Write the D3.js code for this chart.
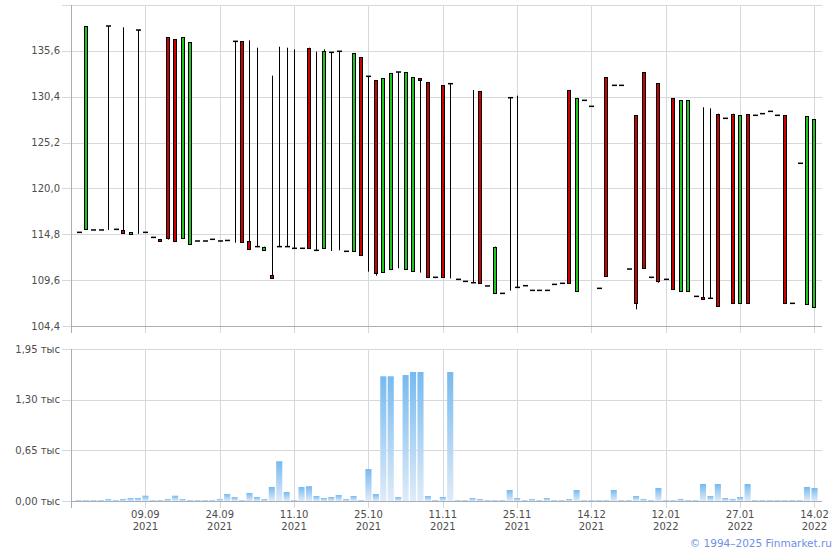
<!DOCTYPE html>
<html>
<head>
<meta charset="utf-8">
<script src="https://cdn.jsdelivr.net/npm/d3@7"></script>
<style>
body { margin: 0; background: #fff; }
svg { display: block; font-family: "DejaVu Sans", Verdana, sans-serif; }
</style>
</head>
<body>
<svg id="chart" width="840" height="550"></svg>
<script>
// daily OHLC, one entry per trading day (100 days)
var openPrices = [115.02,115.36,115.29,115.29,138.42,115.36,115.29,114.76,137.96,115.02,
    114.45,114.27,137.13,136.91,114.30,113.66,114.04,114.04,114.23,114.04,
    114.10,136.68,136.68,114.00,113.40,113.09,110.15,113.40,113.40,113.21,
    113.21,135.96,112.98,113.21,135.43,135.55,112.87,112.87,134.86,132.71,
    132.26,110.49,110.83,133.20,110.83,110.56,132.52,132.03,109.92,131.69,
    131.88,109.69,109.46,109.31,131.01,108.94,108.22,108.10,130.29,108.78,
    108.97,108.44,108.44,108.44,109.12,109.24,131.12,108.33,129.99,129.31,
    108.67,132.60,131.69,131.69,110.86,128.29,133.16,109.92,131.92,109.69,
    130.22,108.33,108.33,107.76,107.65,107.54,128.48,127.95,128.48,106.93,
    128.40,128.29,128.48,128.74,128.29,128.29,106.97,122.85,106.86,106.52];
var highPrices = [115.02,138.42,115.29,115.29,138.42,115.36,138.27,115.02,137.96,115.02,
    114.45,114.27,137.13,136.91,137.13,136.57,114.04,114.04,114.23,114.04,
    114.10,136.68,136.68,136.79,135.96,113.40,132.79,136.07,135.96,135.77,
    113.21,135.96,135.51,135.77,135.43,135.55,112.87,135.32,134.86,132.71,
    132.26,132.48,133.05,133.20,133.20,132.60,132.52,132.03,109.92,131.69,
    131.88,109.69,109.46,131.16,131.01,108.94,113.40,108.10,130.29,130.52,
    108.97,108.44,108.44,108.44,109.12,109.24,131.12,130.22,129.99,129.31,
    108.67,132.60,131.69,131.69,110.86,128.29,133.16,109.92,131.92,109.69,
    130.22,129.99,129.99,107.76,129.20,129.08,128.48,127.95,128.48,128.29,
    128.40,128.29,128.48,128.74,128.29,128.29,106.97,122.85,128.17,127.83];
var lowPrices = [115.02,115.36,115.29,115.29,115.29,115.36,115.00,114.76,114.85,115.02,
    114.45,114.00,114.20,114.00,114.30,113.66,114.04,114.04,114.23,114.04,
    114.10,113.85,113.89,113.09,113.40,113.09,109.80,113.40,113.40,113.21,
    113.21,113.28,112.98,113.21,112.90,112.98,112.87,112.87,112.41,110.56,
    110.11,110.49,110.83,110.94,110.83,110.56,110.45,109.92,109.92,109.92,
    109.80,109.69,109.46,109.31,109.20,108.94,108.22,108.10,108.41,108.78,
    108.97,108.44,108.44,108.44,109.12,109.24,109.24,108.33,129.99,129.31,
    108.67,110.03,131.69,131.69,110.86,106.29,110.98,109.92,109.31,109.69,
    108.56,108.33,108.33,107.76,107.42,107.54,106.74,127.95,107.05,106.93,
    106.93,128.29,128.48,128.74,128.29,106.93,106.97,122.85,106.86,106.52];
var closePrices = [115.02,138.42,115.29,115.29,138.42,115.36,115.00,115.02,137.96,115.02,
    114.45,114.00,114.30,114.00,137.13,136.57,114.04,114.04,114.23,114.04,
    114.10,136.68,113.89,113.09,113.40,113.40,109.80,113.40,113.40,113.21,
    113.21,113.28,112.98,135.55,135.43,135.55,112.87,135.32,112.41,132.71,
    110.37,132.48,133.05,133.20,133.20,132.60,132.26,109.92,109.92,109.92,
    131.88,109.69,109.46,109.31,109.20,108.94,113.40,108.10,130.29,108.78,
    108.97,108.44,108.44,108.44,109.12,109.24,109.24,130.22,129.99,129.31,
    108.67,110.03,131.69,131.69,110.86,106.97,110.98,109.92,109.50,109.69,
    108.56,129.99,129.99,107.76,107.42,107.54,106.74,127.95,107.05,128.29,
    106.93,128.29,128.48,128.74,128.29,106.93,106.97,122.85,128.17,127.83];
// volume, thousands
var volumes = [0.01,0.01,0.01,0.01,0.026,0.01,0.026,0.038,0.038,0.068,
    0.01,0.01,0.026,0.068,0.026,0.01,0.01,0.01,0.01,0.026,
    0.09,0.051,0.01,0.103,0.051,0.026,0.18,0.51,0.115,0.01,
    0.18,0.19,0.064,0.038,0.051,0.077,0.026,0.064,0.013,0.41,
    0.09,1.60,1.60,0.051,1.616,1.655,1.655,0.064,0.013,0.051,
    1.655,0.01,0.01,0.038,0.026,0.01,0.01,0.01,0.141,0.038,
    0.01,0.026,0.01,0.038,0.01,0.01,0.026,0.141,0.01,0.01,
    0.01,0.01,0.141,0.01,0.01,0.064,0.026,0.01,0.167,0.01,
    0.01,0.026,0.01,0.01,0.218,0.064,0.218,0.038,0.026,0.051,
    0.218,0.01,0.01,0.01,0.01,0.01,0.01,0.01,0.18,0.167];

var tickIndex = [9, 19, 29, 39, 49, 59, 69, 79, 89, 99];
var tickDay = ["09.09", "24.09", "11.10", "25.10", "11.11", "25.11", "14.12", "12.01", "27.01", "14.02"];
var tickYear = ["2021", "2021", "2021", "2021", "2021", "2021", "2021", "2022", "2022", "2022"];
var priceTicks = [104.4, 109.6, 114.8, 120.0, 125.2, 130.4, 135.6, 140.8];
var volumeTicks = [0, 0.65, 1.30, 1.95];

var left = 71, right = 822;
var priceTop = 5, priceBottom = 326;
var volTop = 349, volBottom = 501;

var gridColor = "#d5d9dd";
var axisColor = "#a9aeb6";
var textColor = "#4d4d4d";
var upColor = "#1cc81c";
var downColor = "#cc0000";

var svg = d3.select("#chart");

var xScale = d3.scaleBand()
    .domain(d3.range(openPrices.length))
    .range([left, right])
    .paddingInner(0.18)
    .paddingOuter(0.6);
var cx = function (i) { return xScale(i) + xScale.bandwidth() / 2; };

var yScale = d3.scaleLinear()
    .domain([104.4, 140.8])
    .range([priceBottom, priceTop]);
var vScale = d3.scaleLinear()
    .domain([0, 1.95])
    .range([volBottom, volTop]);

var commaFmt = function (f) {
    var fmt = d3.format(f);
    return function (v) { return fmt(v).replace(".", ","); };
};
var priceFmt = commaFmt(".1f");
var volFmt = commaFmt(".2f");

var defs = svg.append("defs");
var grad = defs.append("linearGradient")
    .attr("id", "volGrad")
    .attr("x1", 0).attr("y1", 0).attr("x2", 0).attr("y2", 1);
grad.append("stop").attr("offset", "0%").attr("stop-color", "#76baf0");
grad.append("stop").attr("offset", "100%").attr("stop-color", "#dfebf8");

// grid
var grid = svg.append("g").attr("shape-rendering", "crispEdges");
grid.selectAll("line.hp")
    .data(priceTicks)
    .enter().append("line")
    .attr("x1", left - 9).attr("x2", right)
    .attr("y1", function (d) { return Math.round(yScale(d)) + 0.5; })
    .attr("y2", function (d) { return Math.round(yScale(d)) + 0.5; })
    .style("stroke", gridColor);
grid.selectAll("line.hv")
    .data(volumeTicks)
    .enter().append("line")
    .attr("x1", left - 9).attr("x2", right)
    .attr("y1", function (d) { return Math.round(vScale(d)) + 0.5; })
    .attr("y2", function (d) { return Math.round(vScale(d)) + 0.5; })
    .style("stroke", gridColor);
tickIndex.forEach(function (i) {
    var x = Math.round(cx(i)) + 0.5;
    grid.append("line")
        .attr("x1", x).attr("x2", x)
        .attr("y1", priceTop).attr("y2", priceBottom + 7)
        .style("stroke", gridColor);
    grid.append("line")
        .attr("x1", x).attr("x2", x)
        .attr("y1", volTop).attr("y2", volBottom + 7)
        .style("stroke", gridColor);
});

// axes
var axes = svg.append("g").attr("shape-rendering", "crispEdges").style("stroke", axisColor);
axes.append("line").attr("x1", left + 0.5).attr("x2", left + 0.5).attr("y1", priceTop).attr("y2", priceBottom + 7);
axes.append("line").attr("x1", left).attr("x2", right).attr("y1", priceBottom + 0.5).attr("y2", priceBottom + 0.5);
axes.append("line").attr("x1", left + 0.5).attr("x2", left + 0.5).attr("y1", volTop).attr("y2", volBottom + 7);
axes.append("line").attr("x1", left).attr("x2", right).attr("y1", volBottom + 0.5).attr("y2", volBottom + 0.5);

var labels = svg.append("g")
    .style("font-size", "10px")
    .style("fill", textColor);
labels.selectAll("text.py")
    .data(priceTicks.slice(0, -1))
    .enter().append("text")
    .attr("x", left - 11)
    .attr("y", function (d) { return yScale(d); })
    .attr("dy", "0.35em")
    .attr("text-anchor", "end")
    .text(priceFmt);
labels.selectAll("text.vy")
    .data(volumeTicks)
    .enter().append("text")
    .attr("x", left - 11)
    .attr("y", function (d) { return vScale(d); })
    .attr("dy", "0.35em")
    .attr("text-anchor", "end")
    .text(function (d) { return volFmt(d) + " тыс"; });
tickIndex.forEach(function (i, k) {
    labels.append("text")
        .attr("x", cx(i)).attr("y", volBottom + 17)
        .attr("text-anchor", "middle")
        .text(tickDay[k]);
    labels.append("text")
        .attr("x", cx(i)).attr("y", volBottom + 29)
        .attr("text-anchor", "middle")
        .text(tickYear[k]);
});

// volume bars
svg.append("g").selectAll("rect")
    .data(volumes)
    .enter().append("rect")
    .attr("x", function (d, i) { return xScale(i); })
    .attr("width", xScale.bandwidth())
    .attr("y", function (d) { return vScale(d); })
    .attr("height", function (d) { return volBottom - vScale(d); })
    .style("fill", "url(#volGrad)");

// candles
var candles = svg.append("g").selectAll("g")
    .data(d3.range(openPrices.length))
    .enter().append("g");
candles.append("line")
    .attr("x1", function (i) { return Math.round(cx(i)) + 0.5; })
    .attr("x2", function (i) { return Math.round(cx(i)) + 0.5; })
    .attr("y1", function (i) { return yScale(highPrices[i]); })
    .attr("y2", function (i) { return yScale(lowPrices[i]); })
    .style("stroke", "#000")
    .style("stroke-width", 1);
candles.each(function (i) {
    var g = d3.select(this);
    var o = openPrices[i], c = closePrices[i];
    var x = Math.round(cx(i));
    if (Math.abs(o - c) < 0.05) {
        g.append("line")
            .attr("x1", x - 2).attr("x2", x + 3)
            .attr("y1", yScale(o)).attr("y2", yScale(o))
            .style("stroke", "#000")
            .style("stroke-width", 1.5);
    } else {
        g.append("rect")
            .attr("x", x - 1.5)
            .attr("width", 3)
            .attr("y", Math.round(yScale(Math.max(o, c))) + 0.5)
            .attr("height", Math.round(Math.abs(yScale(o) - yScale(c))))
            .style("fill", c > o ? upColor : downColor)
            .style("stroke", "#000")
            .style("stroke-width", 1);
    }
});

svg.append("text")
    .attr("x", 832).attr("y", 547)
    .attr("text-anchor", "end")
    .style("font-size", "10.5px")
    .style("fill", "#6d8fe6")
    .text("© 1994–2025 Finmarket.ru");
</script>
</body>
</html>
